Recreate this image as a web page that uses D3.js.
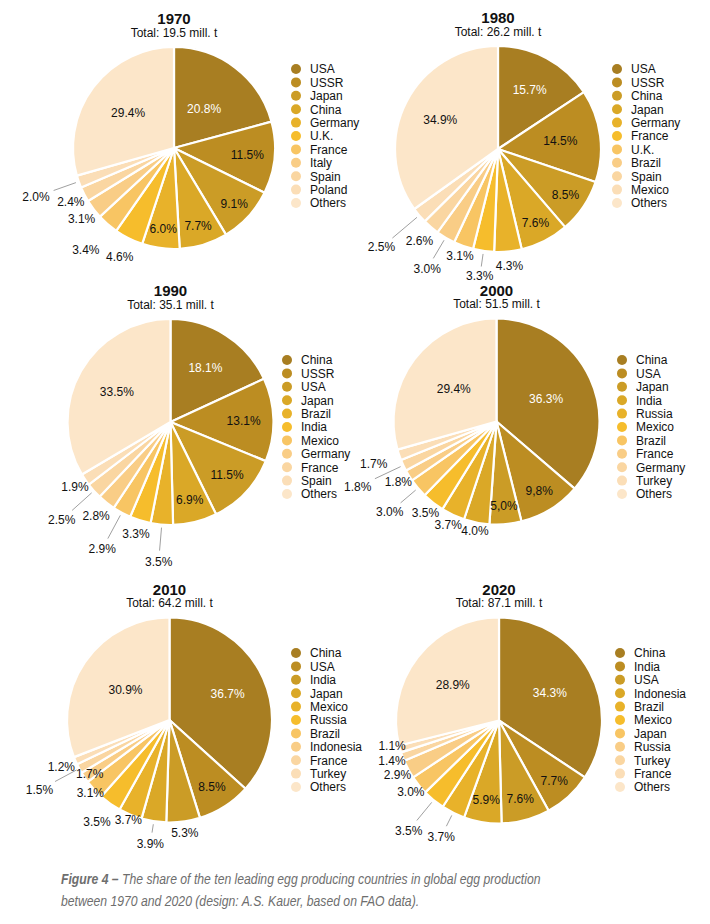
<!DOCTYPE html>
<html>
<head>
<meta charset="utf-8">
<script src="https://cdn.jsdelivr.net/npm/d3@7"></script>
<style>
  body { margin: 0; background: #fff; }
  svg { display: block; }
</style>
</head>
<body>
<div class="graphic"></div>
<script>
// shares in % of world egg production, largest producer first, "Others" last
const countries1970 = ["USA", "USSR", "Japan", "China", "Germany", "U.K.", "France", "Italy", "Spain", "Poland", "Others"];
const shares1970 = [20.8, 11.5, 9.1, 7.7, 6.0, 4.6, 3.4, 3.1, 2.4, 2.0, 29.4];
const countries1980 = ["USA", "USSR", "China", "Japan", "Germany", "France", "U.K.", "Brazil", "Spain", "Mexico", "Others"];
const shares1980 = [15.7, 14.5, 8.5, 7.6, 4.3, 3.3, 3.1, 3.0, 2.6, 2.5, 34.9];
const countries1990 = ["China", "USSR", "USA", "Japan", "Brazil", "India", "Mexico", "Germany", "France", "Spain", "Others"];
const shares1990 = [18.1, 13.1, 11.5, 6.9, 3.5, 3.3, 2.9, 2.8, 2.5, 1.9, 33.5];
const countries2000 = ["China", "USA", "Japan", "India", "Russia", "Mexico", "Brazil", "France", "Germany", "Turkey", "Others"];
const shares2000 = [36.3, 9.8, 5.0, 4.0, 3.7, 3.5, 3.0, 1.8, 1.8, 1.7, 29.4];
const countries2010 = ["China", "USA", "India", "Japan", "Mexico", "Russia", "Brazil", "Indonesia", "France", "Turkey", "Others"];
const shares2010 = [36.7, 8.5, 5.3, 3.9, 3.7, 3.5, 3.1, 1.7, 1.5, 1.2, 30.9];
const countries2020 = ["China", "India", "USA", "Indonesia", "Brazil", "Mexico", "Japan", "Russia", "Turkey", "France", "Others"];
const shares2020 = [34.3, 7.7, 7.6, 5.9, 3.7, 3.5, 3.0, 2.9, 1.4, 1.1, 28.9];

const years = [1970, 1980, 1990, 2000, 2010, 2020];
const totals = [19.5, 26.2, 35.1, 51.5, 64.2, 87.1];   // mill. t
// the 2000 panel prints these two with a decimal comma
const commaLabels2000 = ["USA", "Japan"];

const panels = [
  { countries: countries1970, shares: shares1970 },
  { countries: countries1980, shares: shares1980 },
  { countries: countries1990, shares: shares1990 },
  { countries: countries2000, shares: shares2000, comma: commaLabels2000 },
  { countries: countries2010, shares: shares2010 },
  { countries: countries2020, shares: shares2020 },
].map((p, i) => ({ ...p, year: years[i], total: totals[i] }));

const colors = [
  "#a87e22", "#bc8d22", "#cb9c26", "#daa827", "#e8b22a", "#f6bd2c",
  "#f8c563", "#f9cd86", "#fad6a1", "#fbdeb7", "#fce6c9"
];

// layout per panel: pie centre/radius, legend origin,
// label distance (in radii) per slice, slices with a leader line,
// and a few hand nudges (px) where labels would collide
const layout = [
  { cx: 174, cy: 148, r: 101, lx: 296, ly: 69,
    lab: [0.49, 0.73, 0.81, 0.81, 0.81, 1.2, 1.33, 1.15, 1.15, 1.45, 0.57], leaders: [9] },
  { cx: 498, cy: 149, r: 103, lx: 617, ly: 69,
    lab: [0.65, 0.61, 0.79, 0.8, 1.14, 1.26, 1.1, 1.35, 1.17, 1.48, 0.63], leaders: [5, 7, 9],
    nudge: { 5: [0, -2] } },
  { cx: 170.5, cy: 422, r: 103, lx: 287, ly: 360,
    lab: [0.63, 0.71, 0.75, 0.78, 1.36, 1.14, 1.4, 1.16, 1.42, 1.12, 0.6], leaders: [4, 6, 8] },
  { cx: 496.5, cy: 421.5, r: 103, lx: 622, ly: 360,
    lab: [0.53, 0.79, 0.82, 1.08, 1.11, 1.12, 1.36, 1.12, 1.49, 1.26, 0.52], leaders: [6, 8] },
  { cx: 169.5, cy: 720, r: 102.5, lx: 296, ly: 653,
    lab: [0.62, 0.77, 1.11, 1.22, 1.05, 1.22, 1.05, 0.94, 1.44, 1.15, 0.52], leaders: [3, 8] },
  { cx: 499, cy: 720.5, r: 103, lx: 620, ly: 653,
    lab: [0.56, 0.79, 0.79, 0.78, 1.26, 1.38, 1.1, 1.12, 1.11, 1.1, 0.57], leaders: [4, 5],
    nudge: { 9: [2, -6] } },
];

const width = 710, height = 924;
const font = "'Liberation Sans', Arial, sans-serif";
const fmt = d3.format(".1f");

const svg = d3.select(".graphic").append("svg")
  .attr("width", width)
  .attr("height", height)
  .style("font-family", font);

svg.append("rect").attr("width", width).attr("height", height).attr("fill", "#fff");

function drawPanel(p, lay) {
  const g = svg.append("g").attr("transform", `translate(${lay.cx},${lay.cy})`);
  const pie = d3.pie().sort(null).value(d => d)(p.shares);
  const arc = d3.arc().innerRadius(0).outerRadius(lay.r);

  g.append("text")
    .attr("x", 0).attr("y", -lay.r - 23)
    .attr("text-anchor", "middle")
    .style("font-size", "15px").style("font-weight", "bold")
    .attr("fill", "#111")
    .text(p.year);
  g.append("text")
    .attr("x", 0).attr("y", -lay.r - 10.5)
    .attr("text-anchor", "middle")
    .style("font-size", "12px")
    .attr("fill", "#111")
    .text(`Total: ${p.total} mill. t`);

  g.selectAll("path.slice")
    .data(pie)
    .enter().append("path")
    .attr("class", "slice")
    .attr("d", arc)
    .attr("fill", (d, i) => colors[i])
    .attr("stroke", "#fff")
    .attr("stroke-width", 2.2)
    .attr("stroke-linejoin", "round");

  const pos = (a, dist) => [Math.sin(a) * dist, -Math.cos(a) * dist];

  // leader lines for labels pushed far out
  lay.leaders.forEach(i => {
    const d = pie[i];
    const a = (d.startAngle + d.endAngle) / 2;
    const dist = lay.lab[i] * lay.r;
    const edge = Math.min(13 / Math.max(Math.abs(Math.sin(a)), 1e-6), 6 / Math.max(Math.abs(Math.cos(a)), 1e-6));
    const [x1, y1] = pos(a, lay.r + 3);
    const [x2, y2] = pos(a, dist - edge - 5);
    g.append("line")
      .attr("x1", x1).attr("y1", y1).attr("x2", x2).attr("y2", y2)
      .attr("stroke", "#a0a0a0").attr("stroke-width", 1);
  });

  const nudge = lay.nudge || {};
  g.selectAll("text.pct")
    .data(pie)
    .enter().append("text")
    .attr("class", "pct")
    .attr("transform", (d, i) => {
      const a = (d.startAngle + d.endAngle) / 2;
      const [x, y] = pos(a, lay.lab[i] * lay.r);
      const [nx, ny] = nudge[i] || [0, 0];
      return `translate(${x + nx},${y + ny})`;
    })
    .attr("text-anchor", "middle")
    .attr("dy", "0.35em")
    .style("font-size", "12px")
    .attr("fill", (d, i) => i === 0 ? "#fff" : "#111")
    .text((d, i) => {
      let s = fmt(d.data);
      if (p.comma && p.comma.includes(p.countries[i])) s = s.replace(".", ",");
      return s + "%";
    });

  const legend = svg.append("g").attr("transform", `translate(${lay.lx},${lay.ly})`);
  const rows = legend.selectAll("g")
    .data(p.countries)
    .enter().append("g")
    .attr("transform", (d, i) => `translate(0,${i * 13.4})`);
  rows.append("circle")
    .attr("r", 5)
    .attr("fill", (d, i) => colors[i]);
  rows.append("text")
    .attr("x", 14)
    .attr("dy", "0.36em")
    .style("font-size", "12px")
    .attr("fill", "#111")
    .text(d => d);
}

panels.forEach((p, i) => drawPanel(p, layout[i]));

// caption, set in a condensed italic (horizontal squeeze of the sans)
const caption = svg.append("g")
  .attr("transform", "translate(61,0) scale(0.872,1)")
  .style("font-family", font)
  .style("font-size", "14px")
  .style("font-style", "italic")
  .attr("fill", "#6e6e6e");
const line1 = caption.append("text").attr("x", 0).attr("y", 884);
line1.append("tspan").style("font-weight", "bold").text("Figure 4 \u2013");
line1.append("tspan").text(" The share of the ten leading egg producing countries in global egg production");
caption.append("text").attr("x", 0).attr("y", 906)
  .text("between 1970 and 2020 (design: A.S. Kauer, based on FAO data).");
</script>
</body>
</html>
